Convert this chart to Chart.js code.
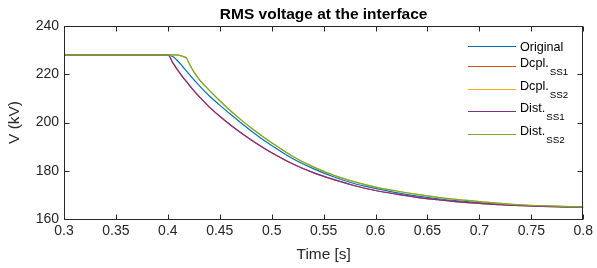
<!DOCTYPE html>
<html lang="en">
<head>
    <meta charset="UTF-8">
    <title>RMS voltage at the interface</title>
    <script src="https://cdn.jsdelivr.net/npm/chart.js"></script>
    <style>
        html, body { margin: 0; padding: 0; background: #fff; }
    </style>
</head>
<body>
    <canvas id="grafico_rms" width="597" height="268"></canvas>

<script>
    // tempo em segundos
    var tempo = [0.3, 0.4, 0.405, 0.41, 0.415, 0.418, 0.42, 0.425, 0.43, 0.44, 0.45, 0.46, 0.47, 0.48, 0.49, 0.5,
                 0.52, 0.54, 0.56, 0.58, 0.6, 0.62, 0.64, 0.66, 0.68, 0.7, 0.72, 0.74, 0.76, 0.78, 0.8];

    // tensao RMS em kV
    var original = [228, 228, 227.3, 225.3, 222.8, 221.3, 220.3, 217.8, 215.4, 211.0, 207.2, 203.5, 200.0, 196.6, 193.4, 190.5,
                    185.1, 180.9, 177.4, 174.6, 172.7, 170.9, 169.5, 168.4, 167.5, 166.8, 166.2, 165.7, 165.4, 165.1, 164.9];
    var dcplSS1 = [228, 228, 224.6, 221.4, 218.5, 216.9, 215.8, 213.2, 210.8, 206.4, 202.6, 199.1, 195.9, 192.9, 190.1, 187.5,
                   182.9, 179.2, 176.3, 173.8, 171.8, 170.3, 169.0, 168.0, 167.1, 166.5, 165.9, 165.5, 165.2, 165.0, 164.9];
    var dcplSS2 = [228, 228, 228, 227.9, 227.3, 226.7, 224.9, 221.0, 218.0, 213.3, 209.0, 205.0, 201.3, 197.8, 194.6, 191.6,
                   186.0, 181.6, 178.1, 175.4, 173.2, 171.6, 170.2, 169.0, 168.0, 167.2, 166.5, 165.9, 165.5, 165.2, 165.0];
    var distSS1 = [228, 228, 224.6, 221.4, 218.5, 216.9, 215.8, 213.2, 210.8, 206.4, 202.6, 199.1, 195.9, 192.9, 190.1, 187.5,
                   182.9, 179.2, 176.3, 173.8, 171.8, 170.3, 169.0, 168.0, 167.1, 166.5, 165.9, 165.5, 165.2, 165.0, 164.9];
    var distSS2 = [228, 228, 228, 227.9, 227.3, 226.7, 224.9, 221.0, 218.0, 213.3, 209.0, 205.0, 201.3, 197.8, 194.6, 191.6,
                   186.0, 181.6, 178.1, 175.4, 173.2, 171.6, 170.2, 169.0, 168.0, 167.2, 166.5, 165.9, 165.5, 165.2, 165.0];

    var nomes = ['Original', 'Dcpl.', 'Dcpl.', 'Dist.', 'Dist.'];
    var subscritos = ['', 'SS1', 'SS2', 'SS1', 'SS2'];
    var series = [original, dcplSS1, dcplSS2, distSS1, distSS2];
    var cores = ['#0072BD', '#D95319', '#EDB120', '#7E2F8E', '#77AC30'];

    var ticksY = [160, 180, 200, 220, 240];

    var fonte = '"Liberation Sans", Arial, Helvetica, sans-serif';
    var corTexto = '#262626';

    // titulo, caixa com ticks para dentro (estilo matlab) e legenda com subscrito
    var eixosMatlab = {
        id: 'eixosMatlab',
        afterDatasetsDraw(chart) {
            var ctx = chart.ctx;
            var a = chart.chartArea;
            var sx = chart.scales.x;
            var sy = chart.scales.y;
            var l = Math.round(a.left) + 0.5, r = Math.round(a.right) - 0.5;
            var t = Math.round(a.top) + 0.5, b = Math.round(a.bottom) + 0.5;

            ctx.save();
            ctx.strokeStyle = corTexto;
            ctx.lineWidth = 1;
            ctx.strokeRect(l, t, r - l, b - t);

            ctx.beginPath();
            sx.ticks.forEach(function (tk) {
                var px = Math.round(sx.getPixelForValue(tk.value)) + 0.5;
                ctx.moveTo(px, b); ctx.lineTo(px, b - 5);
                ctx.moveTo(px, t); ctx.lineTo(px, t + 5);
            });
            sy.ticks.forEach(function (tk) {
                var py = Math.round(sy.getPixelForValue(tk.value)) + 0.5;
                ctx.moveTo(l, py); ctx.lineTo(l + 5, py);
                ctx.moveTo(r, py); ctx.lineTo(r - 5, py);
            });
            ctx.stroke();

            // titulo
            ctx.fillStyle = '#000';
            ctx.font = 'bold 15.5px ' + fonte;
            ctx.textAlign = 'center';
            ctx.textBaseline = 'middle';
            ctx.fillText('RMS voltage at the interface', (a.left + a.right) / 2, 14.5);
            ctx.restore();
        },
        afterDraw(chart) {
            var ctx = chart.ctx;
            var linhasY = [46, 66, 89, 111, 134];
            ctx.save();
            ctx.textBaseline = 'middle';
            ctx.textAlign = 'left';
            for (var i = 0; i < nomes.length; i++) {
                var y = linhasY[i] + 0.5;
                ctx.strokeStyle = cores[i];
                ctx.lineWidth = 1;
                ctx.beginPath();
                ctx.moveTo(468, y); ctx.lineTo(516, y);
                ctx.stroke();

                ctx.fillStyle = '#000';
                ctx.font = '12.6px ' + fonte;
                if (subscritos[i]) {
                    ctx.fillText(nomes[i], 520, y - 3);
                    var w = ctx.measureText(nomes[i]).width;
                    ctx.font = '9.8px ' + fonte;
                    ctx.fillText(subscritos[i], 520 + w + 1, y + 5.5);
                } else {
                    ctx.fillText(nomes[i], 520, y + 1);
                }
            }
            ctx.restore();
        }
    };

    var datasets = series.map(function (vals, i) {
        return {
            label: nomes[i] + subscritos[i],
            data: tempo.map(function (t, k) { return { x: t, y: vals[k] }; }),
            borderColor: cores[i],
            backgroundColor: cores[i],
            borderWidth: 1.2,
            pointRadius: 0,
            cubicInterpolationMode: 'monotone',
            order: series.length - i
        };
    });

    var ctx = document.getElementById('grafico_rms').getContext('2d');

    new Chart(ctx, {
        type: 'line',
        data: { datasets: datasets },
        options: {
            responsive: false,
            animation: false,
            devicePixelRatio: 1,
            layout: { padding: { top: 26, right: 10, bottom: 0, left: 0 } },
            plugins: {
                legend: { display: false },
                tooltip: { enabled: false }
            },
            scales: {
                x: {
                    type: 'linear',
                    min: 0.3,
                    max: 0.8,
                    grid: { display: false, drawTicks: false },
                    border: { display: false },
                    ticks: {
                        stepSize: 0.05,
                        padding: 4,
                        maxRotation: 0,
                        autoSkip: false,
                        color: corTexto,
                        font: { family: fonte, size: 14 },
                        callback: function (v) { return String(Math.round(v * 100) / 100); }
                    },
                    title: {
                        display: true,
                        text: 'Time [s]',
                        color: corTexto,
                        font: { family: fonte, size: 15.4 },
                        padding: { top: 0, bottom: 3.8 }
                    },
                    afterFit: function (s) { s.height = 49; }
                },
                y: {
                    min: ticksY[0],
                    max: ticksY[ticksY.length - 1],
                    grid: { display: false, drawTicks: false },
                    border: { display: false },
                    afterBuildTicks: function (s) { s.ticks = ticksY.map(function (v) { return { value: v }; }); },
                    ticks: {
                        padding: 5,
                        color: corTexto,
                        font: { family: fonte, size: 14 }
                    },
                    title: {
                        display: true,
                        text: 'V (kV)',
                        color: corTexto,
                        font: { family: fonte, size: 15.4 },
                        padding: { top: 5.8, bottom: 0 }
                    },
                    afterFit: function (s) { s.width = 64; }
                }
            }
        },
        plugins: [eixosMatlab]
    });
</script>
</body>
</html>
